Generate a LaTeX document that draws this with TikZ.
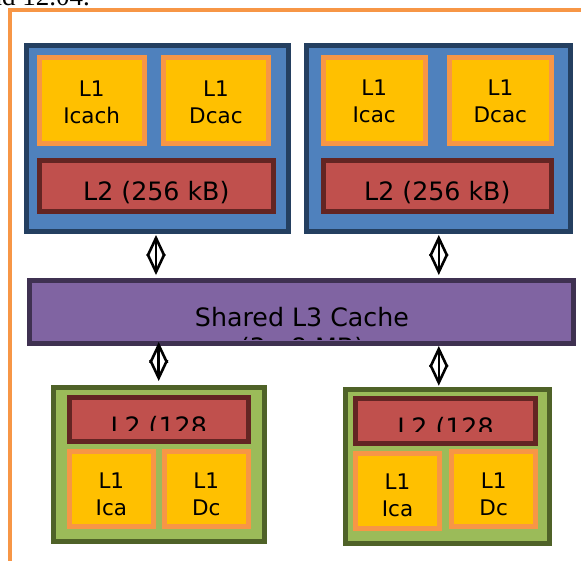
\documentclass[tikz,border=0pt]{standalone}
\usepackage{fontspec}
\setmainfont{DejaVu Sans}
\newfontfamily\captionserif{Liberation Serif}
\usetikzlibrary{arrows.meta}

\definecolor{frameorange}{HTML}{F79646}
\definecolor{coreblue}{HTML}{4F81BD}
\definecolor{coreblueline}{HTML}{243F60}
\definecolor{lonefill}{HTML}{FFC000}
\definecolor{ltwofill}{HTML}{C0504D}
\definecolor{ltwoline}{HTML}{632523}
\definecolor{lthreefill}{HTML}{8064A2}
\definecolor{lthreeline}{HTML}{3F3151}
\definecolor{greenfill}{HTML}{9BBB59}
\definecolor{greenline}{HTML}{4F6228}

\tikzset{
  cachebox/.style={rectangle, inner sep=0pt, line width=5pt},
  corebox/.style={cachebox, fill=coreblue, draw=coreblueline},
  gpubox/.style={cachebox, fill=greenfill, draw=greenline},
  lonebox/.style={cachebox, fill=lonefill, draw=frameorange},
  ltwobox/.style={cachebox, fill=ltwofill, draw=ltwoline},
  lthreebox/.style={cachebox, fill=lthreefill, draw=lthreeline},
  lonetext/.style={inner sep=0pt, align=center, anchor=north,
    font=\fontsize{21.5}{27}\selectfont},
  ltwotext/.style={inner sep=0pt, anchor=base,
    font=\fontsize{25.3}{30}\selectfont},
  biarrow/.style={line width=2.6pt,
    {Straight Barb[length=18pt,width=17pt]}-{Straight Barb[length=18pt,width=17pt]}},
}

\begin{document}
\begin{tikzpicture}[x=1pt, y=-1pt]
\useasboundingbox (0,0) rectangle (581,560);

% partly visible caption line above the frame
\node[inner sep=0pt, anchor=base east, font=\captionserif\fontsize{27}{32}\selectfont]
  (caption) at (90,5) {and 12.04.};

% outer orange frame
\draw[frameorange, line width=4pt] (10,600) -- (10,10) -- (600,10);

% ---- two CPU cores ----
\node[corebox, minimum width=262pt, minimum height=186pt] (cpuA) at (157.5,138.5) {};
\node[corebox, minimum width=264pt, minimum height=186pt] (cpuB) at (438.8,138.5) {};

\node[lonebox, minimum width=105pt, minimum height=86pt] (aI) at (91.7,100.5) {};
\node[lonebox, minimum width=104.7pt, minimum height=86pt] (aD) at (215.9,100.5) {};
\node[lonebox, minimum width=102pt, minimum height=86pt] (bI) at (374.2,100.5) {};
\node[lonebox, minimum width=102.3pt, minimum height=86pt] (bD) at (500.35,100.5) {};

\node[lonetext] (aItext) at (91.7,80.5) {L1\\Icach};
\node[lonetext] (aDtext) at (215.9,80.5) {L1\\Dcac};
\node[lonetext] (bItext) at (374.2,80) {L1\\Icac};
\node[lonetext] (bDtext) at (500.35,80) {L1\\Dcac};

\node[ltwobox, minimum width=234.3pt, minimum height=51.3pt] (aL2) at (156.35,185.85) {};
\node[ltwobox, minimum width=228.3pt, minimum height=51.3pt] (bL2) at (437.35,185.85) {};
\node[ltwotext] (aL2text) at (156.35,200) {L2 (256 kB)};
\node[ltwotext] (bL2text) at (437.35,200) {L2 (256 kB)};

% ---- shared L3 (second line runs past the box and is cut) ----
\node[lthreebox, minimum width=544pt, minimum height=63pt] (l3) at (301.5,312) {};
\begin{scope}
  \clip (30,281) rectangle (573,339.5);
  % base anchor sits on the last line: 356 here puts line one at 326
  \node[inner sep=0pt, anchor=base, align=center,
    font=\fontsize{25.3}{30}\selectfont] (l3text) at (302,356)
    {Shared L3 Cache\\(3 - 8 MB)};
\end{scope}

% ---- two graphics units ----
\node[gpubox, minimum width=211pt, minimum height=154.3pt] (gA) at (158.7,464.65) {};
\node[gpubox, minimum width=204.6pt, minimum height=154.3pt] (gB) at (447.5,466.35) {};

\node[ltwobox, minimum width=179pt, minimum height=44.3pt] (gAL2) at (158.7,419.65) {};
\node[ltwobox, minimum width=180.6pt, minimum height=45pt] (gBL2) at (445.5,421) {};
\begin{scope}
  \clip (70,398) rectangle (248,430);
  \node[ltwotext] (gAL2text) at (158.7,435) {L2 (128};
\end{scope}
\begin{scope}
  \clip (356,399) rectangle (535,431.7);
  \node[ltwotext] (gBL2text) at (445.5,436) {L2 (128};
\end{scope}

\node[lonebox, minimum width=84.3pt, minimum height=74.7pt] (gAI) at (111.35,489.15) {};
\node[lonebox, minimum width=84pt, minimum height=74.7pt] (gAD) at (206.2,489.15) {};
\node[lonebox, minimum width=84.6pt, minimum height=75.3pt] (gBI) at (397.5,490.85) {};
\node[lonebox, minimum width=84.3pt, minimum height=75pt] (gBD) at (493.65,489.3) {};

\node[lonetext] (gAItext) at (111.35,472.3) {L1\\Ica};
\node[lonetext] (gADtext) at (206.2,472.3) {L1\\Dc};
\node[lonetext] (gBItext) at (397.5,473.3) {L1\\Ica};
\node[lonetext] (gBDtext) at (493.65,472.6) {L1\\Dc};

% ---- connections ----
\draw[biarrow, shorten <=1pt, shorten >=3pt] ([xshift=-1.5pt]cpuA.south) -- ([xshift=-1.5pt]cpuA.south |- l3.north);
\draw[biarrow, shorten <=1pt, shorten >=3pt] (cpuB.south) -- (cpuB.south |- l3.north);
\draw[biarrow, shorten <=-4pt, shorten >=4pt] (gA.north |- l3.south) -- (gA.north);
\draw[biarrow, shorten <=0pt, shorten >=1pt] (cpuB.south |- l3.south) -- (cpuB.south |- gB.north);
\end{tikzpicture}
\end{document}
